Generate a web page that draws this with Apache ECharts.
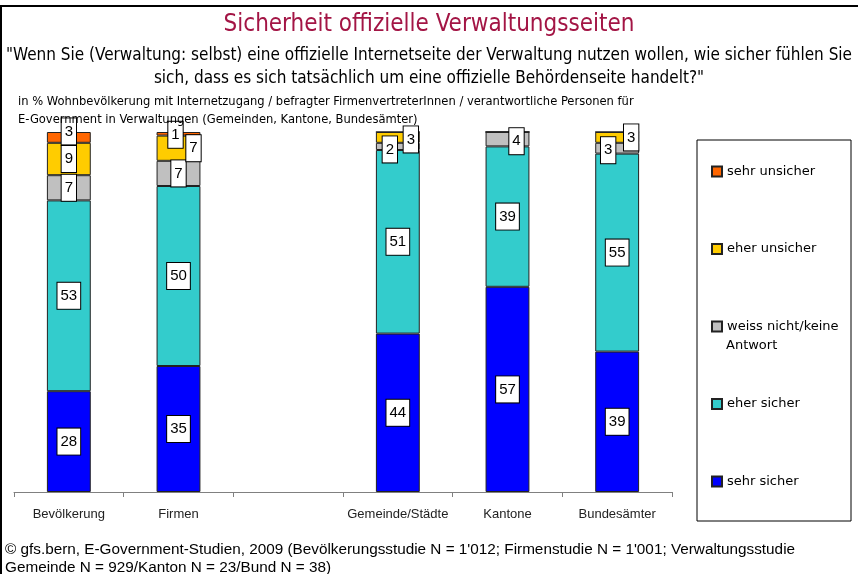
<!DOCTYPE html>
<html>
<head>
<meta charset="utf-8">
<script src="https://cdn.jsdelivr.net/npm/echarts@6/dist/echarts.min.js"></script>
<style>
  html, body { margin: 0; padding: 0; background: #fff; }
  #chart { width: 858px; height: 574px; }
</style>
</head>
<body>
<div id="chart"></div>
<script>
// categories (empty slot between Firmen and Gemeinde/Städte)
const categories = ["Bevölkerung", "Firmen", "", "Gemeinde/Städte", "Kantone", "Bundesämter"];

// values in %, one per category
const sehrSicher    = [28, 35, null, 44, 57, 39];
const eherSicher    = [53, 50, null, 51, 39, 55];
const weissNicht    = [7, 7, null, 2, 4, 3];
const eherUnsicher  = [9, 7, null, 3, 0, 3];
const sehrUnsicher  = [3, 1, null, 0, 0, 0];

const seriesNames = ["sehr sicher", "eher sicher", "weiss nicht/keine Antwort", "eher unsicher", "sehr unsicher"];
const seriesValues = [sehrSicher, eherSicher, weissNicht, eherUnsicher, sehrUnsicher];
const seriesColors = ["#0000ff", "#33cccc", "#c0c0c0", "#ffcc00", "#ff6600"];

// label boxes that were nudged aside in the original (series index -> category index -> [dx, dy])
const labelShift = {
  2: { 3: [-8, 3], 4: [9, 2], 5: [-9, 2] },
  3: { 1: [15, 0], 3: [13, 2], 5: [14, 0] },
  4: { 0: [0, -6], 1: [-3, 1] }
};

const chart = echarts.init(document.getElementById("chart"));

const series = seriesValues.map((vals, s) => ({
  name: seriesNames[s],
  type: "bar",
  stack: "total",
  barWidth: "40%",
  itemStyle: { color: seriesColors[s], borderColor: "#222", borderWidth: 1 },
  label: {
    show: true,
    position: "inside",
    color: "#000",
    fontFamily: "Liberation Sans",
    fontSize: 15,
    lineHeight: 16,
    backgroundColor: "#fff",
    borderColor: "#000",
    borderWidth: 1,
    padding: [5, 3, 5, 3]
  },
  data: vals.map((v, i) => {
    if (v === null) return "-";
    const item = { value: v };
    if (v === 0) item.label = { show: false };
    const sh = labelShift[s] && labelShift[s][i];
    if (sh) item.label = { offset: sh };
    return item;
  })
}));

const narrow = "Liberation Sans Narrow, DejaVu Sans Condensed, Liberation Sans";

const option = {
  animation: false,
  title: [
    {
      text: "Sicherheit offizielle Verwaltungsseiten",
      left: "center", top: 8,
      textStyle: { color: "#a31545", fontSize: 24, fontWeight: "normal", fontFamily: narrow }
    },
    {
      text: "\"Wenn Sie (Verwaltung: selbst) eine offizielle Internetseite der Verwaltung nutzen wollen, wie sicher fühlen Sie\nsich, dass es sich tatsächlich um eine offizielle Behördenseite handelt?\"",
      left: "center", top: 39,
      textStyle: { color: "#000", fontSize: 17, fontWeight: "normal", lineHeight: 23, align: "center", fontFamily: narrow }
    },
    {
      text: "in % Wohnbevölkerung mit Internetzugang / befragter FirmenvertreterInnen / verantwortliche Personen für\nE-Government in Verwaltungen (Gemeinden, Kantone, Bundesämter)",
      left: 13, top: 88,
      textStyle: { color: "#000", fontSize: 12.8, fontWeight: "normal", lineHeight: 18, fontFamily: narrow }
    },
    {
      text: "© gfs.bern, E-Government-Studien, 2009 (Bevölkerungsstudie N = 1'012; Firmenstudie N = 1'001; Verwaltungsstudie\nGemeinde N = 929/Kanton N = 23/Bund N = 38)",
      left: 0, top: 536,
      textStyle: { color: "#000", fontSize: 15.3, fontWeight: "normal", lineHeight: 18, fontFamily: "Liberation Sans" }
    }
  ],
  legend: {
    orient: "vertical",
    left: 706, top: 160,
    itemWidth: 10, itemHeight: 10,
    itemGap: 64.5,
    icon: "rect",
    selectedMode: false,
    data: ["sehr unsicher", "eher unsicher", "weiss nicht/keine Antwort", "eher sicher", "sehr sicher"],
    formatter: name => name === "weiss nicht/keine Antwort" ? "weiss nicht/keine" : name,
    textStyle: { color: "#000", fontSize: 13, fontFamily: "DejaVu Sans" }
  },
  graphic: [
    { type: "rect", shape: { x: 697, y: 140, width: 154, height: 381 }, style: { fill: "none", stroke: "#000", lineWidth: 1 } },
    { type: "text", x: 726, y: 339, style: { text: "Antwort", fontSize: 13, fontFamily: "DejaVu Sans", fill: "#000" } },
    { type: "line", shape: { x1: 1, y1: 5, x2: 1, y2: 574 }, style: { stroke: "#000", lineWidth: 2 } },
    { type: "line", shape: { x1: 0, y1: 6, x2: 858, y2: 6 }, style: { stroke: "#000", lineWidth: 2 } }
  ],
  grid: { left: 14, right: 186, top: 132, bottom: 82 },
  xAxis: {
    type: "category",
    data: categories,
    axisLine: { lineStyle: { color: "#808080", width: 1 } },
    axisTick: { show: true, length: 5, lineStyle: { color: "#808080" } },
    axisLabel: { color: "#222", fontSize: 13, fontFamily: "Liberation Sans", margin: 16, interval: 0 }
  },
  yAxis: {
    type: "value",
    min: 0, max: 100,
    show: false,
    splitLine: { show: false }
  },
  series: series
};

chart.setOption(option);
</script>
</body>
</html>
